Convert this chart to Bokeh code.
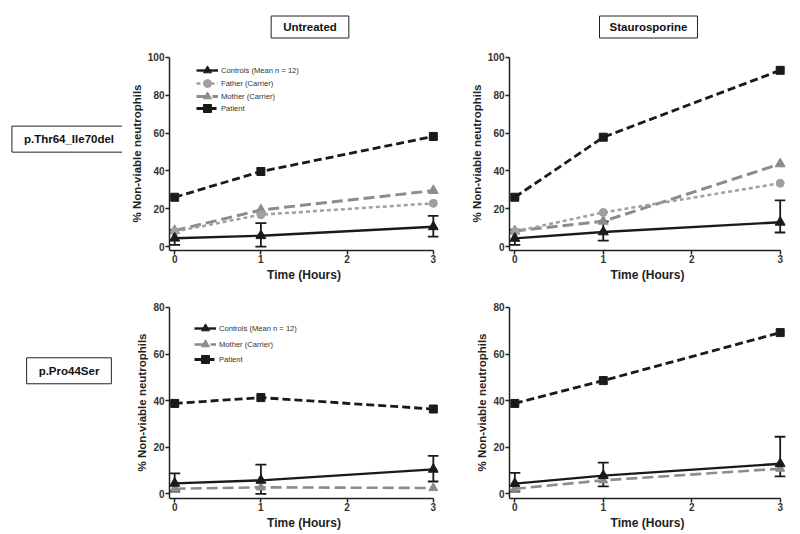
from bokeh.plotting import figure
from bokeh.models import (Range1d, FixedTicker, Legend, LegendItem, Whisker,
                          ColumnDataSource, TeeHead, Label, Spacer)
from bokeh.layouts import column, row
from bokeh.embed import file_html
from bokeh.resources import INLINE

# ---------------- data ----------------
time = [0, 1, 3]
x_ticks = [0, 1, 2, 3]
y_ticks_top = [0, 20, 40, 60, 80, 100]
y_ticks_bottom = [0, 20, 40, 60, 80]

col_labels = ["Untreated", "Staurosporine"]
row_labels = ["p.Thr64_Ile70del", "p.Pro44Ser"]
series_names = ["Controls (Mean n = 12)", "Father (Carrier)", "Mother (Carrier)", "Patient"]

# controls (mean with error bars)
ctrl_untreated = [4.5, 5.8, 10.5]
ctrl_untreated_lo = [1.0, 0.0, 5.3]
ctrl_untreated_hi = [8.8, 12.5, 16.3]
ctrl_stauro = [4.4, 7.8, 12.9]
ctrl_stauro_lo = [1.0, 3.2, 7.5]
ctrl_stauro_hi = [9.0, 13.4, 24.5]

# p.Thr64_Ile70del family
father_thr_untreated = [8.0, 16.9, 22.9]
mother_thr_untreated = [8.5, 19.4, 29.6]
patient_thr_untreated = [26.1, 39.7, 58.2]
father_thr_stauro = [8.0, 18.1, 33.5]
mother_thr_stauro = [8.3, 13.4, 43.7]
patient_thr_stauro = [26.1, 57.8, 93.1]

# p.Pro44Ser family
mother_pro_untreated = [2.2, 2.8, 2.5]
patient_pro_untreated = [38.8, 41.3, 36.4]
mother_pro_stauro = [2.2, 5.8, 10.8]
patient_pro_stauro = [38.8, 48.6, 69.2]

FONT = "Liberation Sans"
GRAY_F = "#a0a0a0"
GRAY_M = "#8c8c8c"
BLACK = "#1a1a1a"


def make_panel(width, height, mbl, mbr, mbt, mbb, ymax, yticks):
    p = figure(width=width, height=height,
               x_range=Range1d(-0.06, 3.06), y_range=Range1d(-2, ymax + 0.4),
               output_backend="svg", toolbar_location=None,
               min_border_left=mbl, min_border_right=mbr,
               min_border_top=mbt, min_border_bottom=mbb)
    p.outline_line_color = None
    p.grid.visible = False
    p.xaxis.ticker = FixedTicker(ticks=x_ticks)
    p.yaxis.ticker = FixedTicker(ticks=yticks)
    p.xaxis.axis_label = "Time (Hours)"
    p.yaxis.axis_label = "% Non-viable neutrophils"
    p.xaxis.bounds = (-0.06, 3)
    p.yaxis.bounds = (-2, ymax)
    for ax in p.axis:
        ax.axis_line_width = 1.5
        ax.axis_line_color = "#222222"
        ax.major_tick_line_width = 1.5
        ax.major_tick_line_color = "#222222"
        ax.major_tick_out = 4
        ax.major_tick_in = 0
        ax.minor_tick_line_color = None
        ax.major_label_text_font = FONT
        ax.major_label_text_font_style = "bold"
        ax.major_label_text_font_size = "10px"
        ax.major_label_text_color = "#333333"
        ax.major_label_standoff = 1
        ax.axis_label_text_font = FONT
        ax.axis_label_text_font_style = "bold"
        ax.axis_label_text_color = "#222222"
        ax.axis_label_standoff = 2
    p.xaxis.major_label_standoff = 0
    p.xaxis.axis_label_text_font_size = "12px"
    p.yaxis.axis_label_text_font_size = "11.5px"
    return p


def add_series(p, y, color, dash, lw, marker, msize, mcolor):
    l = p.line(time, y, line_color=color, line_dash=dash, line_width=lw)
    s = p.scatter(time, y, marker=marker, size=msize, fill_color=mcolor, line_color=mcolor)
    return [l, s]


def add_controls(p, y, lo, hi):
    src = ColumnDataSource(dict(x=time, lo=lo, hi=hi))
    w = Whisker(base="x", lower="lo", upper="hi", source=src,
                line_color=BLACK, line_width=1.8,
                upper_head=TeeHead(size=11, line_color=BLACK, line_width=1.8),
                lower_head=TeeHead(size=11, line_color=BLACK, line_width=1.8))
    p.add_layout(w)
    l = p.line(time, y, line_color=BLACK, line_width=2.4)
    s = p.scatter(time, y, marker="triangle", size=10, fill_color=BLACK, line_color=BLACK)
    return [l, s]


def add_legend(p, items, vx, frame_bottom_offsets):
    # one single-entry legend per row, so that the legend markers keep a readable size
    for (lab, rends), vy in zip(items, frame_bottom_offsets):
        leg = Legend(items=[LegendItem(label=lab, renderers=rends)], location=(vx, vy))
        leg.background_fill_alpha = 0
        leg.border_line_alpha = 0
        leg.label_text_font = FONT
        leg.label_text_font_size = "7.6px"
        leg.label_text_color = "#333333"
        leg.glyph_width = 22
        leg.glyph_height = 20
        leg.label_height = 20
        leg.padding = 0
        leg.margin = 0
        leg.label_standoff = 3
        p.add_layout(leg)


def label_fig(width, height, text, cx, cy, pad, size="11.5px"):
    f = figure(width=width, height=height, x_range=Range1d(0, width), y_range=Range1d(0, height),
               output_backend="svg", toolbar_location=None, x_axis_type=None, y_axis_type=None,
               min_border=0)
    f.outline_line_color = None
    f.grid.visible = False
    lab = Label(x=cx, y=cy, text=text, text_align="center", text_baseline="middle",
                text_font=FONT, text_font_style="bold", text_font_size=size,
                text_color="#111111", border_line_color="#222222", border_line_width=1,
                background_fill_color="white", padding=pad)
    f.add_layout(lab)
    return f


HEAD_H, TOP_H, BOT_H = 45, 250, 239
LAB_W, LEFT_W, RIGHT_W = 122, 345, 333

# ---- column headers ----
head_left = label_fig(LEFT_W, HEAD_H, col_labels[0], 187.5, HEAD_H - 26.5, (12, 5))
head_right = label_fig(RIGHT_W, HEAD_H, col_labels[1], 181, HEAD_H - 26.5, (10, 5))

# ---- top row: p.Thr64_Ile70del ----
tl = make_panel(LEFT_W, TOP_H, 47, 29, 11, 45, 100, y_ticks_top)
r_pat = add_series(tl, patient_thr_untreated, BLACK, "8 4", 2.8, "square", 8, BLACK)
r_mot = add_series(tl, mother_thr_untreated, GRAY_M, "11 5", 3.0, "triangle", 10, GRAY_M)
r_fat = add_series(tl, father_thr_untreated, GRAY_F, "4 3", 2.5, "circle", 8, GRAY_F)
r_ctl = add_controls(tl, ctrl_untreated, ctrl_untreated_lo, ctrl_untreated_hi)
add_legend(tl, [(series_names[0], r_ctl), (series_names[1], r_fat),
                (series_names[2], r_mot), (series_names[3], r_pat)], 27, [170, 157, 144, 132])

tr = make_panel(RIGHT_W, TOP_H, 42, 15, 11, 45, 100, y_ticks_top)
add_series(tr, patient_thr_stauro, BLACK, "8 4", 2.8, "square", 8, BLACK)
add_series(tr, mother_thr_stauro, GRAY_M, "11 5", 3.0, "triangle", 10, GRAY_M)
add_series(tr, father_thr_stauro, GRAY_F, "4 3", 2.5, "circle", 8, GRAY_F)
add_controls(tr, ctrl_stauro, ctrl_stauro_lo, ctrl_stauro_hi)

# ---- bottom row: p.Pro44Ser ----
bl = make_panel(LEFT_W, BOT_H, 47, 29, 11, 36, 80, y_ticks_bottom)
b_pat = add_series(bl, patient_pro_untreated, BLACK, "8 4", 2.8, "square", 8, BLACK)
b_mot = add_series(bl, mother_pro_untreated, GRAY_M, "11 5", 2.6, "triangle", 9, GRAY_M)
b_ctl = add_controls(bl, ctrl_untreated, ctrl_untreated_lo, ctrl_untreated_hi)
add_legend(bl, [(series_names[0], b_ctl), (series_names[2], b_mot),
                (series_names[3], b_pat)], 25, [160, 144, 129])

br = make_panel(RIGHT_W, BOT_H, 42, 15, 11, 36, 80, y_ticks_bottom)
add_series(br, patient_pro_stauro, BLACK, "8 4", 2.8, "square", 8, BLACK)
add_series(br, mother_pro_stauro, GRAY_M, "11 5", 2.6, "triangle", 9, GRAY_M)
add_controls(br, ctrl_stauro, ctrl_stauro_lo, ctrl_stauro_hi)

lab_top = label_fig(LAB_W, TOP_H, row_labels[0], 68.5, TOP_H - (151.5 - HEAD_H), (12, 7))
lab_bot = label_fig(LAB_W, BOT_H, row_labels[1], 68.5, BOT_H - 80, (12, 7))

layout = column(row(Spacer(width=LAB_W, height=HEAD_H), head_left, head_right),
                row(lab_top, tl, tr),
                row(lab_bot, bl, br))

with open("out.html", "w") as fh:
    fh.write(file_html(layout, INLINE))
